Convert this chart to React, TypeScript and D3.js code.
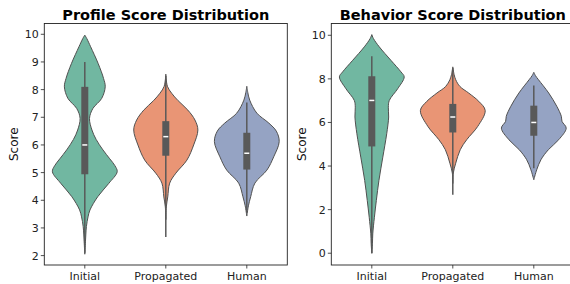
import React from "react";
import * as d3 from "d3";

// categories and colours (seaborn Set2, desaturated)
const categories = ["Initial", "Propagated", "Human"];
const fills = ["#71b7a1", "#e99575", "#95a3c3"];

// violin outlines: [score, relative half width]
const profileDensity: [number, number][][] = [
  [[2.05, 0], [2.5, 0.02], [3.05, 0.05], [3.4, 0.1], [3.65, 0.16], [4.13, 0.4], [4.61, 0.74], [5.03, 1.0], [5.25, 0.93], [5.5, 0.77], [5.82, 0.56], [6.2, 0.35], [6.54, 0.22], [6.96, 0.145], [7.32, 0.25], [7.68, 0.52], [8.1, 0.63], [8.4, 0.58], [8.95, 0.41], [9.55, 0.18], [9.85, 0.06], [9.97, 0]],
  [[3.3, 0], [3.76, 0.015], [4.12, 0.06], [4.62, 0.12], [4.98, 0.31], [5.45, 0.65], [6.0, 0.86], [6.54, 0.99], [6.9, 0.9], [7.26, 0.68], [7.6, 0.38], [7.87, 0.18], [8.12, 0.05], [8.56, 0]],
  [[3.43, 0], [3.8, 0.05], [4.13, 0.12], [4.62, 0.25], [5.09, 0.62], [5.57, 0.83], [6.12, 1.0], [6.5, 0.91], [6.79, 0.68], [7.15, 0.31], [7.62, 0.09], [7.9, 0.03], [8.12, 0]],
];
const behaviorDensity: [number, number][][] = [
  [[0, 0], [0.45, 0.02], [0.89, 0.03], [1.65, 0.08], [2.42, 0.14], [3.34, 0.22], [4.41, 0.34], [5.48, 0.46], [6.25, 0.52], [6.7, 0.51], [7.01, 0.54], [7.55, 0.8], [8.09, 1.0], [8.32, 0.9], [8.85, 0.59], [9.47, 0.23], [9.85, 0.05], [10.03, 0]],
  [[3.2, 0], [3.68, 0.015], [4.13, 0.09], [4.75, 0.23], [5.21, 0.43], [5.82, 0.77], [6.55, 1.0], [6.97, 0.8], [7.35, 0.49], [7.65, 0.22], [7.96, 0.09], [8.2, 0.04], [8.55, 0]],
  [[3.37, 0], [3.83, 0.09], [4.29, 0.22], [4.75, 0.45], [5.21, 0.77], [5.74, 1.0], [6.05, 0.87], [6.28, 0.85], [6.74, 0.71], [7.35, 0.46], [7.96, 0.145], [8.15, 0.05], [8.3, 0]],
];

// inner box stats: whisker low, q1, median, q3, whisker high
const profileLow = [2.1, 2.67, 3.55];
const profileQ1 = [4.94, 5.61, 5.11];
const profileMedian = [6.0, 6.3, 5.7];
const profileQ3 = [8.1, 6.86, 6.44];
const profileHigh = [9.0, 8.5, 7.53];

const behaviorLow = [0, 2.68, 3.9];
const behaviorQ1 = [4.9, 5.54, 5.39];
const behaviorMedian = [7.01, 6.25, 6.0];
const behaviorQ3 = [8.12, 6.85, 6.77];
const behaviorHigh = [9.04, 8.5, 7.69];

const profileTicks = [2, 3, 4, 5, 6, 7, 8, 9, 10];
const behaviorTicks = [0, 2, 4, 6, 8, 10];

const font = "DejaVu Sans, sans-serif";
const edge = "#505050";

type PanelProps = {
  left: number;
  title: string;
  titleY: number;
  domain: [number, number];
  ticks: number[];
  density: [number, number][][];
  low: number[];
  q1: number[];
  med: number[];
  q3: number[];
  high: number[];
  labelX: number;
};

function Panel(p: PanelProps) {
  const top = 23.5;
  const bottom = 265;
  const width = 243;
  const x = d3.scalePoint<string>().domain(categories).range([p.left, p.left + width]).padding(0.5);
  const y = d3.scaleLinear().domain(p.domain).range([bottom, top]);
  const w = d3.scaleLinear().domain([0, 1]).range([0, x.step() * 0.4]);

  return (
    <g>
      {categories.map((c, i) => {
        const cx = x(c)!;
        const area = d3
          .area<[number, number]>()
          .y((d) => y(d[0]))
          .x0((d) => cx - w(d[1]))
          .x1((d) => cx + w(d[1]))
          .curve(d3.curveCatmullRom.alpha(0.5));
        return (
          <g key={c}>
            <path d={area(p.density[i]) || ""} fill={fills[i]} stroke={edge} strokeWidth={1} />
            <line x1={cx} x2={cx} y1={y(p.low[i])} y2={y(p.high[i])} stroke="#595959" strokeWidth={1.5} />
            <rect x={cx - 3.5} width={7} y={y(p.q3[i])} height={y(p.q1[i]) - y(p.q3[i])} fill="#595959" />
            <line x1={cx - 2.5} x2={cx + 2.5} y1={y(p.med[i])} y2={y(p.med[i])} stroke="#ffffff" strokeWidth={1.5} />
            <line x1={cx} x2={cx} y1={bottom} y2={bottom + 3.5} stroke="#222" strokeWidth={0.8} />
            <text x={cx} y={279.5} textAnchor="middle" fontFamily={font} fontSize={11} fill="#222">
              {c}
            </text>
          </g>
        );
      })}
      {p.ticks.map((t) => (
        <g key={t}>
          <line x1={p.left - 3.5} x2={p.left} y1={y(t)} y2={y(t)} stroke="#222" strokeWidth={0.8} />
          <text x={p.left - 5.5} y={y(t)} dy="0.36em" textAnchor="end" fontFamily={font} fontSize={11} fill="#222">
            {t}
          </text>
        </g>
      ))}
      <rect x={p.left} y={top} width={width} height={bottom - top} fill="none" stroke="#222" strokeWidth={0.9} />
      <text
        transform={`translate(${p.labelX},${(top + bottom) / 2}) rotate(-90)`}
        textAnchor="middle"
        dy="0.35em"
        fontFamily={font}
        fontSize={12}
        fill="#111"
      >
        Score
      </text>
      <text x={p.left + width / 2} y={p.titleY} textAnchor="middle" fontFamily={font} fontSize={14.5} fontWeight="bold" fill="#000">
        {p.title}
      </text>
    </g>
  );
}

export default function App() {
  return (
    <svg width={570} height={284} style={{ position: "absolute", left: 0, top: 0, background: "#fff" }}>
      <rect width={570} height={284} fill="#fff" />
      <Panel
        left={44.3}
        title="Profile Score Distribution"
        titleY={19.5}
        domain={[1.66, 10.39]}
        ticks={profileTicks}
        density={profileDensity}
        low={profileLow}
        q1={profileQ1}
        med={profileMedian}
        q3={profileQ3}
        high={profileHigh}
        labelX={14}
      />
      <Panel
        left={331.3}
        title="Behavior Score Distribution"
        titleY={20}
        domain={[-0.54, 10.54]}
        ticks={behaviorTicks}
        density={behaviorDensity}
        low={behaviorLow}
        q1={behaviorQ1}
        med={behaviorMedian}
        q3={behaviorQ3}
        high={behaviorHigh}
        labelX={301.7}
      />
    </svg>
  );
}
